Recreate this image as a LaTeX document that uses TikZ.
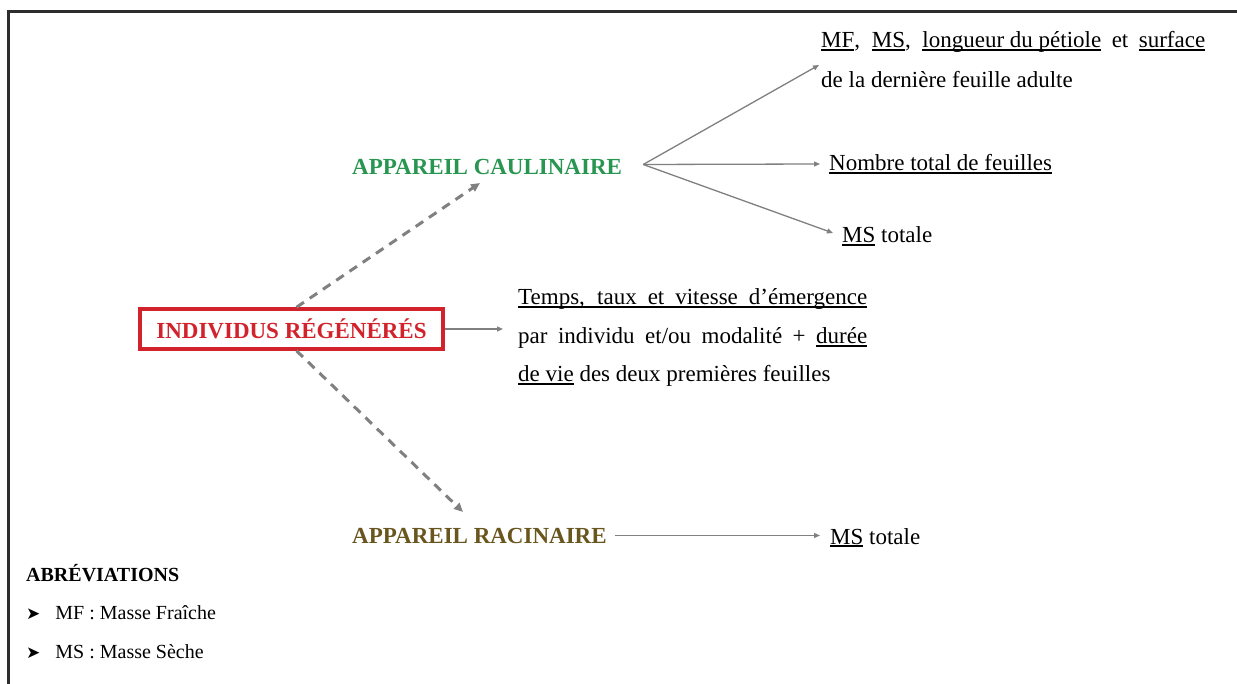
\documentclass[tikz,border=0pt]{standalone}
\usepackage{fontspec}
\setmainfont{Liberation Serif}
\newfontfamily\symfont{DejaVu Sans}
\usetikzlibrary{arrows.meta,calc}
\definecolor{cred}{RGB}{210,35,45}
\definecolor{cgreen}{RGB}{40,150,80}
\definecolor{cgold}{RGB}{105,85,30}
\definecolor{cline}{RGB}{128,128,128}
\definecolor{cframe}{RGB}{45,45,45}
\newcommand\myul[1]{\setbox0\hbox{#1}\rlap{\rule[-3.2pt]{\wd0}{1.8pt}}\box0\relax}
\tikzset{
  txt/.style={inner sep=0pt, anchor=base west, font=\fontsize{23}{23}\selectfont},
  ttl/.style={inner sep=0pt, anchor=base west, font=\fontsize{23}{23}\selectfont\bfseries},
  abv/.style={inner sep=0pt, anchor=base west, font=\fontsize{20}{20}\selectfont},
  conn/.style={draw=cline, line width=1.3pt, -{Triangle[length=6pt,width=5pt]}},
  dconn/.style={draw=cline, line width=3pt, dash pattern=on 9pt off 7pt, -{Triangle[length=9pt,width=8pt]}},
}
\begin{document}
\begin{tikzpicture}[x=1pt,y=-1pt]
\useasboundingbox (0,0) rectangle (1237,684);
\fill[white] (0,0) rectangle (1237,684);
% frame
\draw[cframe, line width=3pt] (8,684) -- (8,12) -- (1237,12);

% titles
\node[ttl, text=cgreen] (cau) at (352,175) {APPAREIL CAULINAIRE};
\node[ttl, text=cgold] (rac) at (352,543) {APPAREIL RACINAIRE};
\node[draw=cred, line width=3.5pt, fill=white, minimum width=303pt, minimum height=40pt,
      inner sep=0pt, text=cred, font=\fontsize{23}{23}\selectfont\bfseries] (ind) at (291.5,329) {INDIVIDUS RÉGÉNÉRÉS};

% right texts
\node[txt] (r1) at (821,48) {\hbox to 384pt{\myul{MF}, \myul{MS}, \myul{longueur du pétiole} et \myul{surface}}};
\node[txt] (r2) at (821,88) {de la dernière feuille adulte};
\node[txt] (r3) at (829,171) {\myul{Nombre total de feuilles}};
\node[txt] (r4) at (842,243) {\myul{MS} totale};
\node[txt] (r5) at (830,544) {\myul{MS} totale};

% paragraph
\node[txt] (p1) at (518,305) {\myul{\hbox to 349pt{Temps, taux et vitesse d’émergence}}};
\node[txt] (p2) at (518,343.5) {\hbox to 349pt{par individu et/ou modalité + \myul{durée}}};
\node[txt] (p3) at (518,382) {\myul{de vie} des deux premières feuilles};

% abbreviations
\node[abv, font=\fontsize{20}{20}\selectfont\bfseries] (ab) at (26,581) {ABRÉVIATIONS};
\node[abv] (m1) at (26,619) {{\symfont\fontsize{17}{17}\selectfont ➤}\hspace{15pt}MF : Masse Fraîche};
\node[abv] (m2) at (26,658) {{\symfont\fontsize{17}{17}\selectfont ➤}\hspace{15pt}MS : Masse Sèche};

% coordinates
\coordinate (o) at ($(cau.east)+(21,-3)$);
\coordinate (t1) at (819,65);
\coordinate (t2) at (820,164);
\coordinate (t3) at (833,233);
\coordinate (dc) at (480,183);
\coordinate (dr) at (463,512);

% connectors
\draw[conn] (o) -- (t1);
\draw[conn] (o) -- (t2);
\draw[conn] (o) -- (t3);
\draw[conn, shorten >=15pt] (ind.east) -- (ind.east -| p1.west);
\draw[conn, shorten <=8pt, shorten >=10pt] (rac.east) -- (rac.east -| r5.west);
\draw[dconn] ($(ind.north)+(5,0)$) -- (dc);
\draw[dconn] ($(ind.south)+(5,0)$) -- (dr);
\end{tikzpicture}
\end{document}
